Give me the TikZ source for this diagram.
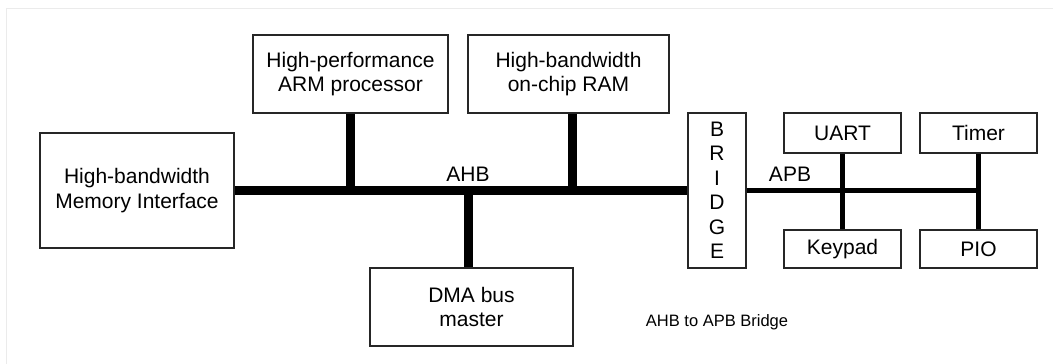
\documentclass[tikz,border=0pt]{standalone}
\usepackage{fontspec}
\setmainfont{Liberation Sans}
\begin{document}
\begin{tikzpicture}[x=1pt,y=-1pt,
  blk/.style={draw=black!85, line width=1.1pt, inner sep=0pt, align=center,
    font=\fontsize{21}{24.5}\selectfont},
  ahbbus/.style={line width=9pt, black},
  apbbus/.style={line width=5.5pt, black},
  buslabel/.style={font=\fontsize{21}{24.5}\selectfont, inner sep=0pt},
  frameline/.style={draw=black!8, line width=1pt}]
\useasboundingbox (0,0) rectangle (1053,364);
\fill[white] (0,0) rectangle (1053,364);
\draw[frameline] (6,364) -- (6,8) -- (1053,8);

% AHB side
\node[blk, minimum width=194pt, minimum height=115pt] (mem) at (137,190.5)
  {High-bandwidth\\Memory Interface};
\node[blk, minimum width=195pt, minimum height=78pt] (arm) at (350.5,74)
  {High-performance\\ARM processor};
\node[blk, minimum width=201pt, minimum height=78pt] (ram) at (568.5,74)
  {High-bandwidth\\on-chip RAM};
\node[blk, minimum width=203pt, minimum height=78pt] (dma) at (471.5,307)
  {DMA bus\\master};
\node[blk, minimum width=58pt, minimum height=155pt] (bridge) at (717,190.5)
  {B\\R\\I\\D\\G\\E};

% APB side
\node[blk, minimum width=117pt, minimum height=40pt] (uart) at (842.5,133) {UART};
\node[blk, minimum width=117pt, minimum height=40pt] (timer) at (978.5,133) {Timer};
\node[blk, minimum width=117pt, minimum height=38pt] (keypad) at (842.5,249) {Keypad};
\node[blk, minimum width=117pt, minimum height=38pt] (pio) at (978.5,249) {PIO};

% AHB bus and its taps
\draw[ahbbus] (mem.east) -- (bridge.west);
\draw[ahbbus] (arm.south) -- (arm.south |- mem.east);
\draw[ahbbus] ([xshift=3.5pt]ram.south) -- ([xshift=3.5pt]ram.south |- mem.east);
\draw[ahbbus] ([xshift=-3.5pt]dma.north) -- ([xshift=-3.5pt]dma.north |- mem.east);

% APB bus and its taps
\draw[apbbus] (bridge.east) -- ([xshift=2.75pt]timer.south |- bridge.east);
\draw[apbbus] (uart.south) -- (keypad.north);
\draw[apbbus] (timer.south) -- (pio.north);

% labels
\node[buslabel] (ahb) at (468,174) {AHB};
\node[buslabel] (apb) at (790,174) {APB};
\node[inner sep=0pt, font=\fontsize{16.5}{19}\selectfont] (cap) at (717,322)
  {AHB to APB Bridge};
\end{tikzpicture}
\end{document}
